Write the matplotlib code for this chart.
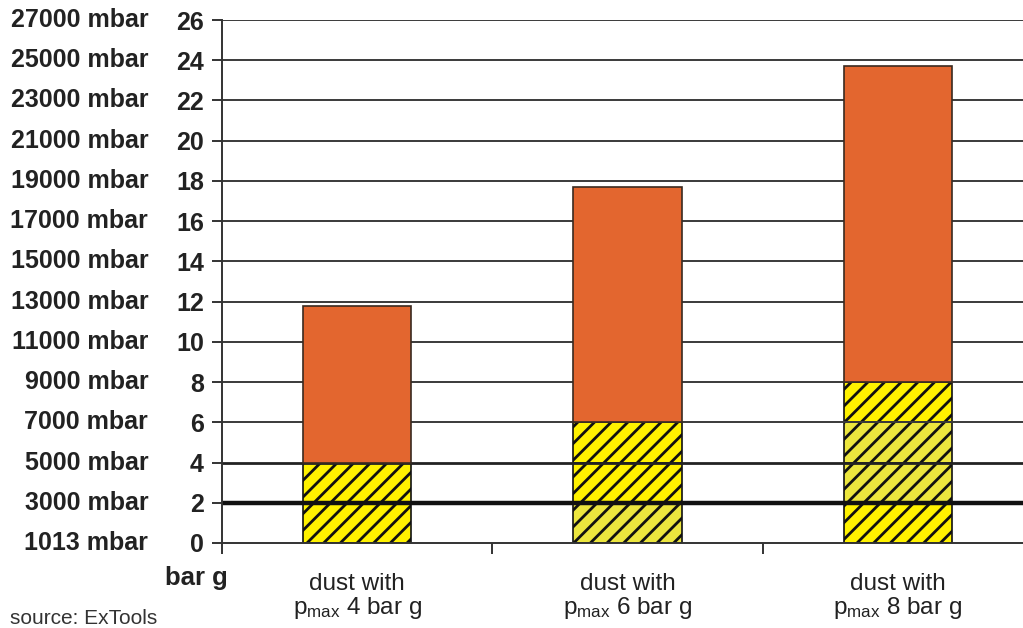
import numpy as np
import matplotlib
matplotlib.use("Agg")
from matplotlib import pyplot as plt

plt.rcParams['font.family'] = ['Liberation Sans', 'DejaVu Sans']
plt.rcParams['mathtext.fontset'] = 'custom'
plt.rcParams['mathtext.rm'] = 'Liberation Sans'
plt.rcParams['mathtext.it'] = 'Liberation Sans'
plt.rcParams['hatch.linewidth'] = 2.0

# data
categories = ["dust with\np$_{\\mathrm{max}}$ 4 bar g",
              "dust with\np$_{\\mathrm{max}}$ 6 bar g",
              "dust with\np$_{\\mathrm{max}}$ 8 bar g"]
totals = [11.8, 17.7, 23.7]          # bar g, top of orange bars
hatched_top = [4, 6, 8]              # bar g, top of hatched part
# shade of each 2-bar hatched slice, bottom to top (0 = yellow, 1 = pale)
slice_shade = [[0, 0], [1, 0, 0], [0, 1, 1, 0]]
barg_ticks = list(range(0, 27, 2))
mbar_labels = ["1013 mbar"] + ["%d mbar" % (1000 * t + 1000) for t in barg_ticks[1:]]

orange = "#e3662f"
yellows = ["#fff200", "#ece63e"]

fig = plt.figure(figsize=(10.23, 6.28), dpi=100)
ax = fig.add_axes([222 / 1023, 1 - 543 / 628, 811 / 1023, 523 / 628])

x = np.arange(len(categories)) + 0.5
w = 0.4

# horizontal lines
for t in barg_ticks[1:]:
    lw = 1.4
    col = "#3a3a3a"
    if t == 2:
        lw, col = 3.2, "#111111"
    elif t == 4:
        lw, col = 2.0, "#222222"
    ax.axhline(t, color=col, lw=lw, zorder=2.5)

for i in range(len(categories)):
    for k, s in enumerate(slice_shade[i]):
        ax.bar(x[i], 2, w, bottom=2 * k, color=yellows[s], edgecolor="#111111",
               hatch="//", lw=1.2, zorder=2)
    ax.bar(x[i], totals[i] - hatched_top[i], w, bottom=hatched_top[i],
           color=orange, edgecolor="#3a2a20", lw=1.2, zorder=3)

ax.set_xlim(0, 3)
ax.set_ylim(0, 26)
for sp in ["top", "right"]:
    ax.spines[sp].set_visible(False)
ax.spines["left"].set_linewidth(1.4)
ax.spines["bottom"].set_linewidth(1.4)
ax.spines["left"].set_color("#333333")
ax.spines["bottom"].set_color("#333333")
ax.spines["bottom"].set_zorder(2.6)

ax.set_yticks(barg_ticks)
ax.set_yticklabels([str(t) for t in barg_ticks], fontsize=18, fontweight="bold",
                   color="#222222")
ax.tick_params(axis="y", length=7, width=1.4, color="#333333", pad=6)

ax.set_xticks([0, 1, 2, 3])
ax.set_xticklabels([])
ax.tick_params(axis="x", length=8, width=1.4, color="#333333")

for xi, lab in zip(x, categories):
    ax.text(xi, -1.5, lab, ha="center", va="top", fontsize=17.5,
            linespacing=0.98, color="#222222")

trans = ax.get_yaxis_transform()
for t, lab in zip(barg_ticks, mbar_labels):
    ax.text(-0.091, t, lab, transform=trans, ha="right", va="center",
            fontsize=18, fontweight="bold", color="#222222")

fig.text(228 / 1023, 1 - 578 / 628, "bar g", ha="right", va="center",
         fontsize=18.5, fontweight="bold", color="#222222")
fig.text(10 / 1023, 1 - 618 / 628, "source: ExTools", ha="left", va="center",
         fontsize=15, color="#333333")

fig.savefig("out.png", dpi=100)
